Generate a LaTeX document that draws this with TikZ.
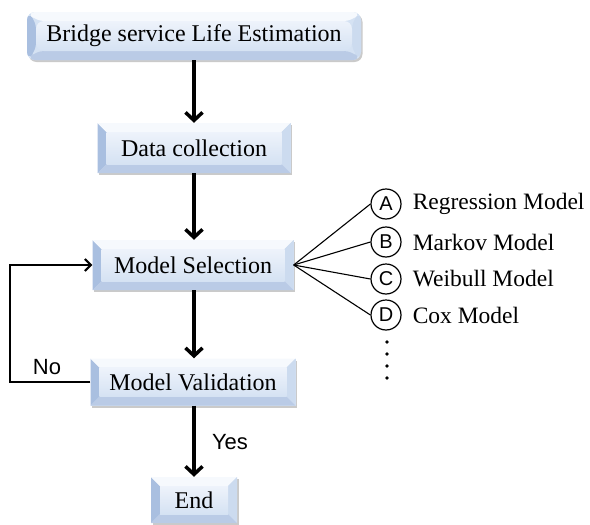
\documentclass[tikz,border=0pt]{standalone}
\usepackage{fontspec}
\setmainfont{Liberation Serif}
\newfontfamily\labelsans{Liberation Sans}
\usetikzlibrary{arrows.meta,calc,shadows}

\definecolor{faceTop}{HTML}{EEF3FB}
\definecolor{faceBot}{HTML}{D5E2F3}
\definecolor{bevLeft}{HTML}{A9BFE0}
\definecolor{bevTop}{HTML}{F6F9FD}
\definecolor{bevRight}{HTML}{CCDBEF}
\definecolor{bevBottom}{HTML}{BACBE6}

\newcommand\bevw{9pt}

\tikzset{
  bevelbox/.style={
    draw=none, fill=faceBot, inner sep=0pt,
    font=\fontsize{24}{27}\selectfont,
    drop shadow={shadow xshift=1.5pt, shadow yshift=-2pt, opacity=0.35, fill=black!60},
    path picture={
      \fill[bevLeft] let \p1=(path picture bounding box.south west),
                         \p2=(path picture bounding box.north east) in
        (\x1,\y1) -- (\x1,\y2) -- (\x1+\bevw,\y2-\bevw) -- (\x1+\bevw,\y1+\bevw) -- cycle;
      \fill[bevTop] let \p1=(path picture bounding box.south west),
                        \p2=(path picture bounding box.north east) in
        (\x1,\y2) -- (\x2,\y2) -- (\x2-\bevw,\y2-\bevw) -- (\x1+\bevw,\y2-\bevw) -- cycle;
      \fill[bevRight] let \p1=(path picture bounding box.south west),
                          \p2=(path picture bounding box.north east) in
        (\x2,\y2) -- (\x2,\y1) -- (\x2-\bevw,\y1+\bevw) -- (\x2-\bevw,\y2-\bevw) -- cycle;
      \fill[bevBottom] let \p1=(path picture bounding box.south west),
                           \p2=(path picture bounding box.north east) in
        (\x1,\y1) -- (\x2,\y1) -- (\x2-\bevw,\y1+\bevw) -- (\x1+\bevw,\y1+\bevw) -- cycle;
      \shade[top color=faceTop, bottom color=faceBot]
        let \p1=(path picture bounding box.south west),
            \p2=(path picture bounding box.north east) in
        (\x1+\bevw,\y1+\bevw) rectangle (\x2-\bevw,\y2-\bevw);
    }},
  mainarrow/.style={line width=3.5pt, -{Straight Barb[length=8pt,width=17pt]}},
  backarrow/.style={line width=2pt, -{Straight Barb[length=6pt,width=12pt]}},
  fanline/.style={line width=1.1pt},
  letterdisc/.style={circle, draw, line width=1.2pt, minimum size=30pt, inner sep=0pt,
    font=\labelsans\fontsize{20}{20}\selectfont},
  itemlabel/.style={anchor=west, inner sep=0pt, font=\fontsize{23.5}{26}\selectfont},
  sidelabel/.style={inner sep=0pt, font=\labelsans\fontsize{22}{24}\selectfont},
}

\begin{document}
\begin{tikzpicture}[x=1pt, y=1pt]
  \useasboundingbox (0,0) rectangle (590,-525);

  % main column
  \node[bevelbox, rounded corners=8pt, minimum width=334pt, minimum height=48pt]
    (bridge) at (194,-36) {Bridge service Life Estimation};
  \node[bevelbox, minimum width=193pt, minimum height=50pt]
    (data) at (194,-148) {Data collection};
  \node[bevelbox, minimum width=201pt, minimum height=50pt]
    (sel) at (193,-265) {Model Selection};
  \node[bevelbox, minimum width=205pt, minimum height=47pt]
    (valid) at (193,-382) {Model Validation};
  \node[bevelbox, minimum width=86pt, minimum height=46pt]
    (end) at (194,-500) {End};

  % vertical flow
  \draw[mainarrow] (bridge.south) -- (bridge.south |- data.north);
  \draw[mainarrow] (data.south) -- (data.south |- sel.north);
  \draw[mainarrow] (sel.south -| data.south) -- (data.south |- valid.north);
  \draw[mainarrow] (valid.south -| data.south) -- (data.south |- end.north);

  % feedback loop
  \coordinate (loopcorner) at (10,-382);
  \draw[backarrow] (valid.west) -- (loopcorner) |- (sel.west);
  \node[sidelabel] (no) at (47,-367) {No};
  \node[sidelabel] (yes) at (230,-442) {Yes};

  % candidate models
  \coordinate (fan) at (sel.east);
  \node[letterdisc] (cA) at (386,-204) {A};
  \node[letterdisc] (cB) at (386,-242) {B};
  \node[letterdisc] (cC) at (386,-279) {C};
  \node[letterdisc] (cD) at (386,-315) {D};
  \foreach \c in {cA,cB,cC,cD} \draw[fanline] (fan) -- (\c.west);

  \node[itemlabel] (lA) at ($(cA.east)+(11,0)$) {Regression Model};
  \node[itemlabel] (lB) at ($(cB.east)+(11,0)$) {Markov Model};
  \node[itemlabel] (lC) at ($(cC.east)+(11,0)$) {Weibull Model};
  \node[itemlabel] (lD) at ($(cD.east)+(11,0)$) {Cox Model};

  % continuation dots
  \foreach \y in {-342,-354,-366,-378} \fill (387,\y) circle (1.8);
\end{tikzpicture}
\end{document}
